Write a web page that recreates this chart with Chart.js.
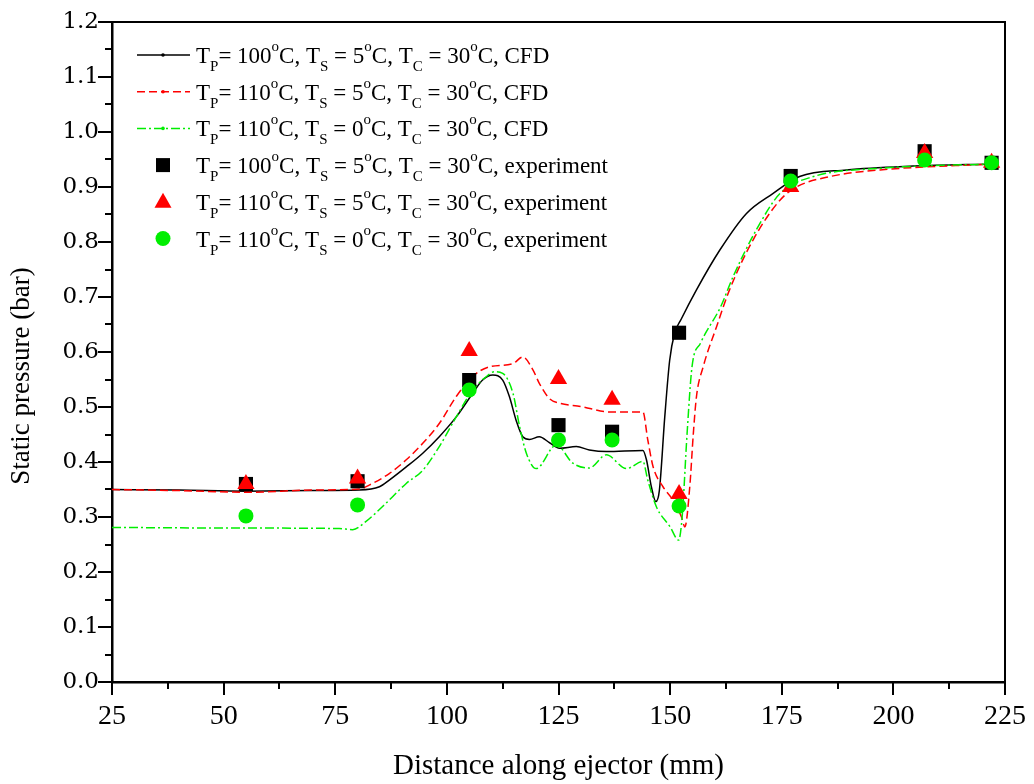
<!DOCTYPE html>
<html>
  <head>
    <meta charset="UTF-8" />
    <script src="https://cdn.jsdelivr.net/npm/chart.js"></script>
    <style>
      body { margin: 0; background: #fff; }
    </style>
  </head>
  <body>
    <canvas id="chart" width="1034" height="784"></canvas>
    <script>
      // CFD profiles (distance in mm, pressure in bar)
      const cfd100X = [25, 40, 55, 70, 80.4, 84.9, 87.1, 90.9, 94.6, 98.3, 102.1, 105.8, 108, 110.3, 112.5, 114, 115.5, 117, 118.5, 120.7, 123, 125.2, 129, 131.9, 135.7, 143.9, 144.7, 145.8, 146.8, 147.6, 148.8, 149.9, 151, 152.5, 155.9, 161.1, 167.1, 173, 179, 189.5, 204.4, 222.4];
      const cfd100Y = [0.35, 0.349, 0.347, 0.348, 0.349, 0.355, 0.367, 0.391, 0.416, 0.446, 0.482, 0.525, 0.549, 0.558, 0.549, 0.519, 0.476, 0.446, 0.441, 0.446, 0.435, 0.425, 0.428, 0.422, 0.419, 0.421, 0.404, 0.355, 0.328, 0.349, 0.482, 0.585, 0.634, 0.66, 0.713, 0.785, 0.852, 0.888, 0.919, 0.931, 0.938, 0.942];

      const cfd110X = [25, 40, 55, 70, 80.4, 82.6, 87.1, 90.9, 94.6, 98.3, 102.1, 105.8, 109.5, 114.8, 117, 119.3, 120.7, 123, 125.2, 130, 136.4, 143.9, 145, 146.2, 148.4, 150.6, 152.5, 153.3, 154.4, 155.2, 155.9, 157.4, 160.4, 163.3, 168.6, 174.6, 178.3, 185.8, 197, 222.4];
      const cfd110Y = [0.35, 0.348, 0.345, 0.349, 0.351, 0.358, 0.379, 0.404, 0.434, 0.47, 0.519, 0.556, 0.573, 0.579, 0.591, 0.567, 0.543, 0.515, 0.507, 0.501, 0.491, 0.491, 0.44, 0.391, 0.355, 0.331, 0.301, 0.282, 0.355, 0.452, 0.519, 0.573, 0.646, 0.713, 0.804, 0.876, 0.9, 0.919, 0.931, 0.942];

      const cfd110s0X = [25, 50, 75.9, 78.9, 81.9, 85.6, 90.9, 94.6, 98.3, 102.1, 105.8, 108.8, 110.6, 112.5, 114.8, 116.3, 117.8, 120, 124.5, 128.2, 131.9, 135.7, 140.2, 143.9, 145, 146.9, 150, 151.9, 152.7, 153.8, 154.9, 156.8, 161.3, 164.1, 169.3, 174.6, 182.1, 197, 222.4];
      const cfd110s0Y = [0.281, 0.28, 0.279, 0.277, 0.292, 0.319, 0.361, 0.385, 0.428, 0.482, 0.531, 0.555, 0.564, 0.561, 0.525, 0.464, 0.416, 0.388, 0.431, 0.398, 0.389, 0.413, 0.388, 0.401, 0.367, 0.319, 0.282, 0.258, 0.301, 0.452, 0.573, 0.616, 0.682, 0.737, 0.822, 0.888, 0.919, 0.934, 0.942];

      // experiment
      const expX = [55, 80, 105, 125, 137, 152, 177, 207, 222];
      const exp100Y = [0.36, 0.365, 0.549, 0.467, 0.455, 0.635, 0.92, 0.965, 0.944];
      const exp110Y = [0.36, 0.37, 0.602, 0.551, 0.513, 0.342, 0.9, 0.962, 0.944];
      const exp110s0Y = [0.302, 0.322, 0.531, 0.44, 0.44, 0.32, 0.911, 0.949, 0.944];

      const xTicks = [25, 50, 75, 100, 125, 150, 175, 200, 225];
      const yTicks = [0, 0.1, 0.2, 0.3, 0.4, 0.5, 0.6, 0.7, 0.8, 0.9, 1.0, 1.1, 1.2];

      const labels = [
        "T_P= 100^oC, T_S = 5^oC, T_C = 30^oC, CFD",
        "T_P= 110^oC, T_S = 5^oC, T_C = 30^oC, CFD",
        "T_P= 110^oC, T_S = 0^oC, T_C = 30^oC, CFD",
        "T_P= 100^oC, T_S = 5^oC, T_C = 30^oC, experiment",
        "T_P= 110^oC, T_S = 5^oC, T_C = 30^oC, experiment",
        "T_P= 110^oC, T_S = 0^oC, T_C = 30^oC, experiment",
      ];
      const yTitle = "Static pressure (bar)";

      const RED = "#ff0000";
      const GREEN = "#00ee00";
      const pts = (xs, ys) => xs.map((x, i) => ({ x: x, y: ys[i] }));

      const lineSet = (label, xs, ys, color, dash, order) => ({
        label: label,
        data: pts(xs, ys),
        showLine: true,
        borderColor: color,
        backgroundColor: color,
        borderWidth: 1.5,
        borderDash: dash,
        pointRadius: 0,
        cubicInterpolationMode: "monotone",
        order: order,
      });

      const markSet = (label, ys, color, style, r, order) => ({
        label: label,
        data: pts(expX, ys),
        showLine: false,
        pointStyle: style,
        pointRadius: r,
        pointBorderWidth: 0,
        pointBackgroundColor: color,
        pointBorderColor: color,
        order: order,
      });

      // split "T_P= 100^oC" into normal / subscript / superscript runs
      const runs = (s) => {
        const out = [];
        let buf = "";
        for (let i = 0; i < s.length; i++) {
          const c = s[i];
          if (c === "_" || c === "^") {
            if (buf) out.push({ t: buf, m: 0 });
            buf = "";
            out.push({ t: s[i + 1], m: c === "_" ? 1 : -1 });
            i++;
          } else buf += c;
        }
        if (buf) out.push({ t: buf, m: 0 });
        return out;
      };

      const framePlugin = {
        id: "frame",
        afterDraw(chart) {
          const { ctx, chartArea: a, scales } = chart;
          const x = scales.x, y = scales.y;
          ctx.save();
          ctx.strokeStyle = "#000";
          ctx.lineWidth = 2;
          ctx.beginPath();
          ctx.moveTo(a.left, a.top);
          ctx.lineTo(a.right, a.top);
          ctx.lineTo(a.right, a.bottom);
          ctx.stroke();
          ctx.beginPath();
          for (let i = 0; i <= 16; i++) {
            const px = Math.round(x.getPixelForValue(25 + i * 12.5));
            const len = i % 2 === 0 ? 13 : 7;
            ctx.moveTo(px, a.bottom);
            ctx.lineTo(px, a.bottom + len);
          }
          for (let i = 0; i <= 24; i++) {
            const py = Math.round(y.getPixelForValue(i * 0.05));
            const len = i % 2 === 0 ? 14 : 7;
            ctx.moveTo(a.left, py);
            ctx.lineTo(a.left - len, py);
          }
          ctx.stroke();

          // y axis title
          ctx.translate(22, 376);
          ctx.rotate(-Math.PI / 2);
          ctx.fillStyle = "#000";
          ctx.font = "27px 'Liberation Serif'";
          ctx.textAlign = "center";
          ctx.textBaseline = "middle";
          ctx.fillText(yTitle, 0, 0);
          ctx.restore();
        },
      };

      const legendPlugin = {
        id: "richLegend",
        afterDraw(chart) {
          const ctx = chart.ctx;
          const sets = chart.data.datasets;
          ctx.save();
          sets.forEach((ds, i) => {
            const cy = 55 + i * 36.7;
            if (ds.showLine) {
              ctx.strokeStyle = ds.borderColor;
              ctx.lineWidth = 1.5;
              ctx.setLineDash(ds.borderDash || []);
              ctx.beginPath();
              ctx.moveTo(137, cy);
              ctx.lineTo(190, cy);
              ctx.stroke();
              ctx.setLineDash([]);
              ctx.fillStyle = ds.borderColor;
              ctx.beginPath();
              ctx.arc(163, cy, 1.8, 0, Math.PI * 2);
              ctx.fill();
            } else {
              ctx.fillStyle = ds.pointBackgroundColor;
              ctx.beginPath();
              if (ds.pointStyle === "rect") {
                ctx.rect(156, cy - 7, 14, 14);
              } else if (ds.pointStyle === "triangle") {
                ctx.moveTo(163, cy - 9);
                ctx.lineTo(171.5, cy + 6);
                ctx.lineTo(154.5, cy + 6);
                ctx.closePath();
              } else {
                ctx.arc(163, cy, 7.5, 0, Math.PI * 2);
              }
              ctx.fill();
            }
            let tx = 196;
            const base = cy + 8;
            ctx.fillStyle = "#000";
            ctx.textBaseline = "alphabetic";
            runs(ds.label).forEach((r) => {
              ctx.font = (r.m === 0 ? "23px" : "15px") + " 'Liberation Serif'";
              const dy = r.m === 1 ? 8 : r.m === -1 ? -12 : 0;
              ctx.fillText(r.t, tx, base + dy);
              tx += ctx.measureText(r.t).width;
            });
          });
          ctx.restore();
        },
      };

      new Chart(document.getElementById("chart"), {
        type: "scatter",
        data: {
          datasets: [
            lineSet(labels[0], cfd100X, cfd100Y, "#000000", [], 5),
            lineSet(labels[1], cfd110X, cfd110Y, RED, [8, 4], 4),
            lineSet(labels[2], cfd110s0X, cfd110s0Y, GREEN, [9, 3, 2, 3], 3),
            markSet(labels[3], exp100Y, "#000000", "rect", 10, 2),
            markSet(labels[4], exp110Y, RED, "triangle", 10, 1),
            markSet(labels[5], exp110s0Y, GREEN, "circle", 7.5, 0),
          ],
        },
        options: {
          responsive: false,
          animation: false,
          layout: { padding: { top: 22, right: 29, left: 0, bottom: 0 } },
          plugins: { legend: { display: false }, tooltip: { enabled: false } },
          scales: {
            x: {
              type: "linear",
              min: xTicks[0],
              max: xTicks[xTicks.length - 1],
              afterBuildTicks: (s) => { s.ticks = xTicks.map((v) => ({ value: v })); },
              afterFit: (s) => {
                s.height = 102;
                s.paddingLeft = 0;
                s.paddingRight = 0;
              },
              ticks: {
                color: "#000",
                font: { family: "'Liberation Serif'", size: 28 },
                padding: 18,
                maxRotation: 0,
                autoSkip: false,
              },
              grid: { drawOnChartArea: false, drawTicks: false },
              border: { display: true, color: "#000", width: 2.5 },
              title: {
                display: true,
                text: "Distance along ejector (mm)",
                color: "#000",
                font: { family: "'Liberation Serif'", size: 29 },
                padding: { top: 0, bottom: 0 },
              },
            },
            y: {
              type: "linear",
              min: 0,
              max: 1.2,
              afterBuildTicks: (s) => { s.ticks = yTicks.map((v) => ({ value: v })); },
              afterFit: (s) => {
                s.width = 112;
                s.paddingTop = 0;
                s.paddingBottom = 0;
              },
              ticks: {
                color: "#000",
                font: { family: "'DejaVu Serif'", size: 23 },
                padding: 13,
                callback: (v) => v.toFixed(1),
              },
              grid: { drawOnChartArea: false, drawTicks: false },
              border: { display: true, color: "#000", width: 2.5 },
            },
          },
        },
        plugins: [framePlugin, legendPlugin],
      });
    </script>
  </body>
</html>
